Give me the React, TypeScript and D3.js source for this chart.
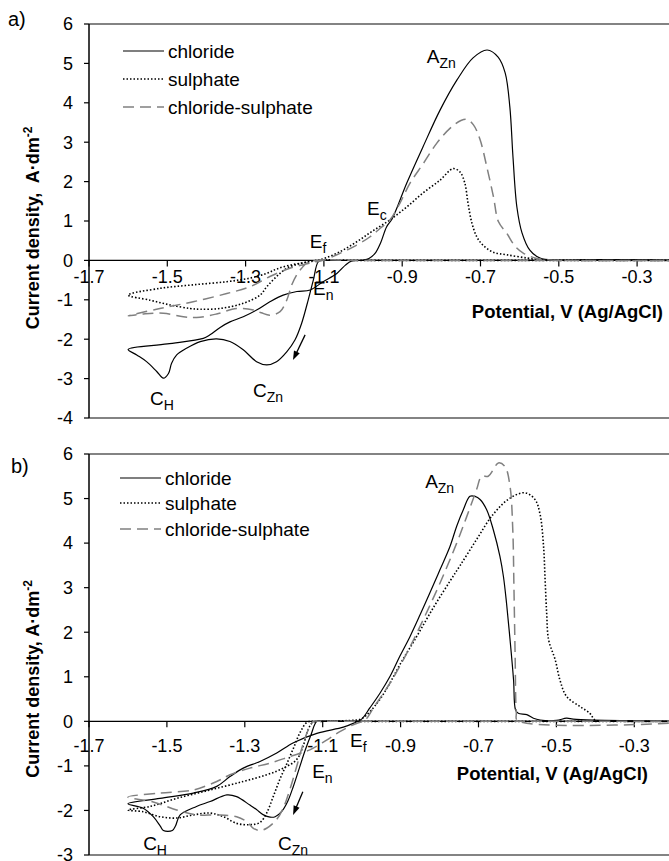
import React from 'react';
import * as d3 from 'd3';

const W = 669;
const H = 861;
const FONT = '"Liberation Sans", Arial, Helvetica, sans-serif';

// ---------- data ----------
const seriesNames = ['chloride', 'sulphate', 'chloride-sulphate'];
const xTickValues = [-1.7, -1.5, -1.3, -1.1, -0.9, -0.7, -0.5, -0.3];
const xTickLabels = ['-1.7', '-1.5', '-1.3', '-1.1', '-0.9', '-0.7', '-0.5', '-0.3'];
const yTicksA = [-4, -3, -2, -1, 0, 1, 2, 3, 4, 5, 6];
const yTicksB = [-3, -2, -1, 0, 1, 2, 3, 4, 5, 6];

// [potential V (Ag/AgCl), current density A·dm-2], in sweep order
const aChloride: [number, number][] = [
  [-0.1, 0], [-0.5, 0], [-0.9, 0], [-1.05, 0], [-1.1, 0], [-1.114, -0.03], [-1.127, -0.5], [-1.14, -1.0],
  [-1.157, -1.6], [-1.174, -2.02], [-1.195, -2.32], [-1.221, -2.57], [-1.246, -2.65], [-1.272, -2.57],
  [-1.306, -2.27], [-1.34, -2.06], [-1.374, -1.99], [-1.416, -2.06], [-1.451, -2.23], [-1.476, -2.4],
  [-1.489, -2.61], [-1.497, -2.87], [-1.51, -2.99], [-1.527, -2.82], [-1.553, -2.57], [-1.578, -2.4],
  [-1.6, -2.26], [-1.5, -2.12], [-1.408, -1.98], [-1.391, -1.89], [-1.365, -1.7], [-1.34, -1.56],
  [-1.306, -1.43], [-1.272, -1.26], [-1.238, -1.05], [-1.204, -0.88], [-1.169, -0.79], [-1.135, -0.75],
  [-1.102, -0.54], [-1.067, -0.33], [-1.045, -0.12], [-1.03, -0.02], [-1.0, 0.01], [-0.985, 0.05],
  [-0.97, 0.17], [-0.955, 0.45], [-0.94, 0.85], [-0.926, 1.05], [-0.888, 1.97], [-0.847, 2.88],
  [-0.803, 3.82], [-0.76, 4.58], [-0.719, 5.14], [-0.683, 5.34], [-0.655, 5.16], [-0.637, 4.76],
  [-0.625, 3.89], [-0.617, 2.62], [-0.607, 1.35], [-0.594, 0.7], [-0.574, 0.26], [-0.548, 0.06],
  [-0.505, 0.01], [-0.4, 0.02], [-0.1, 0],
];
const aSulphate: [number, number][] = [
  [-0.1, 0], [-0.6, 0], [-1.0, 0], [-1.12, 0], [-1.16, -0.08], [-1.195, -0.2], [-1.221, -0.41],
  [-1.246, -0.67], [-1.263, -0.88], [-1.306, -1.09], [-1.365, -1.22], [-1.416, -1.24], [-1.442, -1.22],
  [-1.493, -1.13], [-1.544, -1.01], [-1.6, -0.88], [-1.519, -0.71], [-1.434, -0.62], [-1.348, -0.54],
  [-1.289, -0.45], [-1.246, -0.33], [-1.221, -0.22], [-1.187, -0.12], [-1.153, -0.06], [-1.118, 0.0],
  [-1.102, 0.04], [-1.059, 0.22], [-1.015, 0.48], [-0.975, 0.75], [-0.931, 1.03], [-0.888, 1.36],
  [-0.847, 1.71], [-0.803, 2.04], [-0.77, 2.33], [-0.752, 2.24], [-0.74, 1.96], [-0.732, 1.46],
  [-0.722, 0.95], [-0.709, 0.59], [-0.694, 0.39], [-0.668, 0.21], [-0.632, 0.14], [-0.581, 0.06],
  [-0.548, 0.02], [-0.5, 0.01], [-0.1, 0],
];
const aMixed: [number, number][] = [
  [-0.1, 0], [-0.6, 0], [-1.0, 0], [-1.12, 0], [-1.144, -0.07], [-1.157, -0.2], [-1.169, -0.36],
  [-1.182, -0.62], [-1.195, -1.01], [-1.212, -1.3], [-1.238, -1.39], [-1.26, -1.33], [-1.28, -1.26],
  [-1.323, -1.22], [-1.374, -1.36], [-1.425, -1.45], [-1.459, -1.43], [-1.51, -1.34], [-1.561, -1.36],
  [-1.6, -1.41], [-1.519, -1.22], [-1.434, -1.05], [-1.348, -0.84], [-1.289, -0.67], [-1.238, -0.41],
  [-1.187, -0.2], [-1.135, -0.07], [-1.102, 0.0], [-1.059, 0.18], [-1.016, 0.39], [-0.982, 0.6],
  [-0.957, 0.81], [-0.931, 1.03], [-0.906, 1.45], [-0.88, 1.96], [-0.846, 2.46], [-0.812, 2.97],
  [-0.778, 3.35], [-0.75, 3.55], [-0.735, 3.58], [-0.718, 3.44], [-0.701, 3.06], [-0.684, 2.38],
  [-0.667, 1.62], [-0.654, 0.98], [-0.633, 0.69], [-0.611, 0.35], [-0.59, 0.18], [-0.556, 0.05],
  [-0.522, 0.01], [-0.1, 0],
];

const bChloride: [number, number][] = [
  [-0.1, 0], [-0.6, 0], [-1.0, 0], [-1.1, 0], [-1.115, 0], [-1.13, -0.3], [-1.145, -0.65], [-1.16, -1.05],
  [-1.175, -1.45], [-1.19, -1.8], [-1.205, -2.02], [-1.222, -2.14], [-1.235, -2.15], [-1.252, -2.1],
  [-1.27, -1.98], [-1.287, -1.88], [-1.321, -1.69], [-1.346, -1.65], [-1.389, -1.8], [-1.424, -1.91],
  [-1.466, -2.1], [-1.478, -2.35], [-1.486, -2.45], [-1.509, -2.45], [-1.517, -2.35], [-1.535, -2.14],
  [-1.561, -1.95], [-1.6, -1.85], [-1.518, -1.73], [-1.432, -1.61], [-1.372, -1.46], [-1.338, -1.24],
  [-1.304, -1.05], [-1.261, -0.9], [-1.218, -0.71], [-1.175, -0.48], [-1.115, -0.27], [-1.047, -0.13],
  [-1.02, -0.04], [-1.0, 0.05], [-0.979, 0.3], [-0.953, 0.63], [-0.927, 1.01], [-0.902, 1.46],
  [-0.876, 1.9], [-0.85, 2.39], [-0.825, 2.88], [-0.799, 3.4], [-0.773, 3.93], [-0.756, 4.38],
  [-0.739, 4.75], [-0.722, 5.05], [-0.709, 5.05], [-0.696, 4.98], [-0.679, 4.75], [-0.662, 4.3],
  [-0.645, 3.7], [-0.636, 3.25], [-0.628, 2.65], [-0.619, 1.83], [-0.61, 0.93], [-0.605, 0.26],
  [-0.598, 0.18], [-0.576, 0.15], [-0.559, 0.07], [-0.542, 0.03], [-0.5, 0.02], [-0.474, 0.07],
  [-0.457, 0.05], [-0.405, 0.03], [-0.1, 0],
];
const bSulphate: [number, number][] = [
  [-0.1, 0], [-0.6, 0], [-1.0, 0], [-1.12, 0], [-1.14, -0.02], [-1.158, -0.25], [-1.175, -0.6],
  [-1.192, -0.95], [-1.21, -1.3], [-1.227, -1.69], [-1.244, -2.06], [-1.261, -2.27], [-1.287, -2.32],
  [-1.321, -2.29], [-1.355, -2.14], [-1.389, -2.06], [-1.432, -2.1], [-1.475, -2.17], [-1.518, -2.14],
  [-1.561, -2.03], [-1.6, -1.99], [-1.543, -1.91], [-1.475, -1.73], [-1.389, -1.54], [-1.304, -1.35],
  [-1.244, -1.2], [-1.201, -1.05], [-1.167, -0.86], [-1.15, -0.55], [-1.138, -0.2], [-1.125, -0.02],
  [-1.1, 0.0], [-1.03, 0.02], [-1.0, 0.06], [-0.961, 0.4], [-0.93, 0.82], [-0.902, 1.27],
  [-0.859, 1.9], [-0.816, 2.55], [-0.773, 3.15], [-0.747, 3.5], [-0.705, 4.08], [-0.662, 4.65],
  [-0.619, 5.01], [-0.581, 5.13], [-0.555, 4.98], [-0.542, 4.65], [-0.533, 3.93], [-0.529, 3.18],
  [-0.525, 2.43], [-0.52, 1.83], [-0.503, 1.38], [-0.491, 0.93], [-0.474, 0.56], [-0.439, 0.33],
  [-0.414, 0.18], [-0.401, 0.03], [-0.38, 0.01], [-0.1, 0],
];
const bMixed: [number, number][] = [
  [-0.1, 0], [-0.6, 0], [-1.0, 0], [-1.11, 0], [-1.124, 0], [-1.135, -0.15], [-1.15, -0.5],
  [-1.167, -1.02], [-1.185, -1.55], [-1.2, -1.92], [-1.218, -2.2], [-1.244, -2.4], [-1.261, -2.45],
  [-1.278, -2.4], [-1.295, -2.25], [-1.321, -2.14], [-1.372, -2.1], [-1.424, -2.1], [-1.475, -1.99],
  [-1.535, -1.81], [-1.6, -1.7], [-1.518, -1.61], [-1.432, -1.54], [-1.372, -1.35], [-1.338, -1.2],
  [-1.287, -1.05], [-1.236, -0.94], [-1.184, -0.79], [-1.133, -0.64], [-1.09, -0.42], [-1.056, -0.23],
  [-1.02, -0.07], [-0.99, 0.04], [-0.97, 0.3], [-0.927, 0.86], [-0.884, 1.53], [-0.842, 2.28],
  [-0.799, 3.1], [-0.756, 4.0], [-0.73, 4.6], [-0.705, 5.2], [-0.692, 5.5], [-0.675, 5.5],
  [-0.662, 5.65], [-0.649, 5.8], [-0.632, 5.72], [-0.619, 5.27], [-0.612, 4.3], [-0.609, 3.0],
  [-0.606, 1.5], [-0.603, 0.2], [-0.6, 0.02], [-0.1, 0],
];

// annotation anchors in data units [potential, current] (main letter left / baseline)
const annotA = [
  { main: 'A', sub: 'Zn', at: [-0.837, 5.01] },
  { main: 'E', sub: 'c', at: [-0.99, 1.15] },
  { main: 'E', sub: 'f', at: [-1.136, 0.31] },
  { main: 'E', sub: 'n', at: [-1.128, -0.88] },
  { main: 'C', sub: 'H', at: [-1.544, -3.67] },
  { main: 'C', sub: 'Zn', at: [-1.281, -3.47] },
];
const annotB = [
  { main: 'A', sub: 'Zn', at: [-0.837, 5.24] },
  { main: 'E', sub: 'f', at: [-1.03, -0.57] },
  { main: 'E', sub: 'n', at: [-1.127, -1.27] },
  { main: 'C', sub: 'H', at: [-1.561, -2.89] },
  { main: 'C', sub: 'Zn', at: [-1.215, -2.89] },
];
const arrowA = [[-1.148, -1.89], [-1.179, -2.53]];
const arrowB = [[-1.151, -1.58], [-1.176, -2.1]];

// ---------- styles ----------
const styles = [
  { stroke: '#000', width: 1.2, dash: undefined as string | undefined },
  { stroke: '#000', width: 1.6, dash: '1.5 2' },
  { stroke: '#808080', width: 1.5, dash: '11 6' },
];

type Panel = {
  label: string;
  labelPos: [number, number];
  top: number;
  bottom: number;
  left: number;
  xUnit: number; // px per 1 V
  yDomain: [number, number];
  yTicks: number[];
  series: [number, number][][];
  yTitle: string;
  yTitleCenter: number;
  xTitlePos: [number, number];
  xLabelOffset: number;
  legendX: number;
  legendY: number[];
  annots: { main: string; sub: string; at: number[] }[];
  arrow: number[][];
};

const panels: Panel[] = [
  {
    label: 'a)', labelPos: [8, 26], top: 24, bottom: 418, left: 89, xUnit: 391.5,
    yDomain: [-4, 6], yTicks: yTicksA, series: [aChloride, aSulphate, aMixed],
    yTitle: 'Current density,  A·dm', yTitleCenter: 228, xTitlePos: [663, 318], xLabelOffset: 23,
    legendX: 123, legendY: [51, 79, 107], annots: annotA, arrow: arrowA,
  },
  {
    label: 'b)', labelPos: [11, 473], top: 454, bottom: 855, left: 89, xUnit: 389.5,
    yDomain: [-3, 6], yTicks: yTicksB, series: [bChloride, bSulphate, bMixed],
    yTitle: 'Current density, A·dm', yTitleCenter: 679, xTitlePos: [648, 780], xLabelOffset: 31,
    legendX: 120, legendY: [478, 503, 529], annots: annotB, arrow: arrowB,
  },
];

function PanelView({ p }: { p: Panel }) {
  const x = d3.scaleLinear().domain([-1.7, -0.1]).range([p.left, p.left + 1.6 * p.xUnit]);
  const y = d3.scaleLinear().domain(p.yDomain).range([p.bottom, p.top]);
  const line = d3
    .line<[number, number]>()
    .x((d) => x(d[0]))
    .y((d) => y(d[1]))
    .curve(d3.curveCatmullRom.alpha(0.5));
  const y0 = y(0);
  const xTicksAll = d3.range(0, 9).map((k) => -1.7 + 0.2 * k);
  const [ax0, ay0] = [x(p.arrow[0][0]), y(p.arrow[0][1])];
  const [ax1, ay1] = [x(p.arrow[1][0]), y(p.arrow[1][1])];
  const ang = Math.atan2(ay1 - ay0, ax1 - ax0);
  const hl = 9, hw = 3.2;
  const head = [
    [ax1, ay1],
    [ax1 - hl * Math.cos(ang) + hw * Math.sin(ang), ay1 - hl * Math.sin(ang) - hw * Math.cos(ang)],
    [ax1 - hl * Math.cos(ang) - hw * Math.sin(ang), ay1 - hl * Math.sin(ang) + hw * Math.cos(ang)],
  ];
  return (
    <g>
      <text x={p.labelPos[0]} y={p.labelPos[1]} fontSize={20} fontFamily={FONT}>{p.label}</text>
      {/* frame */}
      <line x1={p.left} x2={W + 5} y1={p.top} y2={p.top} stroke="#5a5a5a" strokeWidth={1.5} />
      <line x1={p.left} x2={W + 5} y1={p.bottom} y2={p.bottom} stroke="#5a5a5a" strokeWidth={1.5} />
      {/* y axis */}
      <line x1={p.left} x2={p.left} y1={p.top} y2={p.bottom} stroke="#000" strokeWidth={1.5} />
      {p.yTicks.map((t) => (
        <g key={t}>
          <line x1={p.left - 5} x2={p.left} y1={y(t)} y2={y(t)} stroke="#000" strokeWidth={1.2} />
          <text x={p.left - 16} y={y(t)} dy="0.35em" textAnchor="end" fontSize={18} fontFamily={FONT}>{t}</text>
        </g>
      ))}
      {/* x axis at zero */}
      <line x1={p.left} x2={W + 5} y1={y0} y2={y0} stroke="#000" strokeWidth={1.2} />
      {xTicksAll.map((t, k) => (
        <line key={k} x1={x(t)} x2={x(t)} y1={y0} y2={y0 + 6} stroke="#000" strokeWidth={1.2} />
      ))}
      {xTickValues.map((t, k) => (
        <text key={k} x={x(t)} y={y0 + p.xLabelOffset} textAnchor="middle" fontSize={18} fontFamily={FONT}>
          {xTickLabels[k]}
        </text>
      ))}
      {/* curves */}
      {p.series.map((s, k) => (
        <path key={k} d={line(s) || ''} fill="none" stroke={styles[k].stroke} strokeWidth={styles[k].width}
          strokeDasharray={styles[k].dash} strokeLinejoin="round" />
      ))}
      {/* legend */}
      {seriesNames.map((n, k) => (
        <g key={n}>
          <line x1={p.legendX} x2={p.legendX + 41} y1={p.legendY[k]} y2={p.legendY[k]} stroke={styles[k].stroke}
            strokeWidth={styles[k].width} strokeDasharray={styles[k].dash} />
          <text x={p.legendX + 45} y={p.legendY[k]} dy="0.35em" fontSize={19} fontFamily={FONT}>{n}</text>
        </g>
      ))}
      {/* axis titles */}
      <text x={p.xTitlePos[0]} y={p.xTitlePos[1]} textAnchor="end" fontSize={18.5} fontWeight="bold" fontFamily={FONT}>
        Potential, V (Ag/AgCl)
      </text>
      <text transform={`translate(39,${p.yTitleCenter}) rotate(-90)`} textAnchor="middle" fontSize={18}
        fontWeight="bold" fontFamily={FONT} style={{ whiteSpace: 'pre' }}>
        {p.yTitle}
        <tspan fontSize={12} dy={-7}>-2</tspan>
      </text>
      {/* annotations */}
      {p.annots.map((a, k) => (
        <text key={k} x={x(a.at[0])} y={y(a.at[1])} fontSize={19} fontFamily={FONT}>
          {a.main}
          <tspan fontSize={14} dy={5}>{a.sub}</tspan>
        </text>
      ))}
      <line x1={ax0} y1={ay0} x2={ax1 - 6 * Math.cos(ang)} y2={ay1 - 6 * Math.sin(ang)} stroke="#000" strokeWidth={1.3} />
      <polygon points={head.map((q) => q.join(',')).join(' ')} fill="#000" />
    </g>
  );
}

export default function App() {
  return (
    <svg width={W} height={H} viewBox={`0 0 ${W} ${H}`}
      style={{ position: 'absolute', left: 0, top: 0, background: '#fff', overflow: 'hidden' }}>
      <rect x={0} y={0} width={W} height={H} fill="#fff" />
      {panels.map((p) => (
        <PanelView key={p.label} p={p} />
      ))}
    </svg>
  );
}
